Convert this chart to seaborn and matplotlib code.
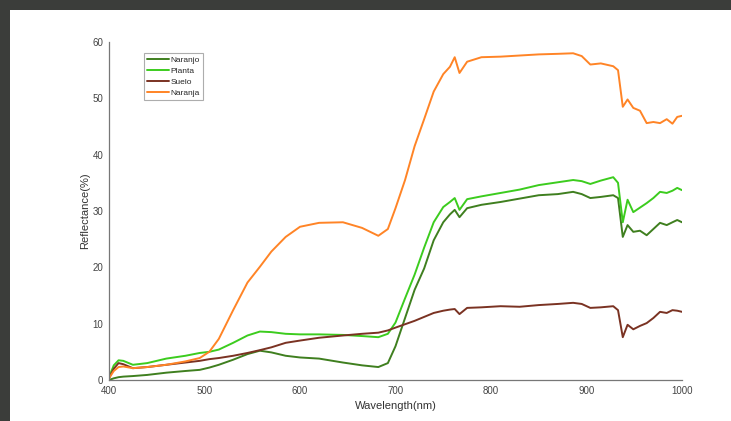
import matplotlib
matplotlib.use("Agg")
import matplotlib.pyplot as plt
from matplotlib.patches import Rectangle
from matplotlib.lines import Line2D
import seaborn as sns
import pandas as pd

wavelength = [400, 405, 410, 415, 425, 440, 460, 480, 495, 505, 515, 530, 545, 558,
              570, 585, 600, 620, 645, 665, 682, 692, 700, 710, 720, 730, 740, 750,
              757, 762, 767, 775, 790, 810, 830, 850, 870, 886, 895, 904, 915, 928,
              933, 938, 943, 949, 956, 963, 970, 977, 984, 990, 995, 1000]

naranjo = [0.0, 0.3, 0.5, 0.6, 0.7, 0.9, 1.3, 1.6, 1.8, 2.2, 2.7, 3.6, 4.6, 5.2,
           4.9, 4.3, 4.0, 3.8, 3.1, 2.6, 2.3, 3.0, 6.0, 11.0, 16.0, 19.8, 24.8, 28.0,
           29.4, 30.2, 28.9, 30.5, 31.1, 31.6, 32.2, 32.8, 33.0, 33.4, 33.0, 32.3, 32.5, 32.8,
           32.3, 25.4, 27.5, 26.3, 26.5, 25.7, 26.8, 27.9, 27.5, 28.0, 28.4, 28.0]

planta = [0.5, 2.6, 3.5, 3.4, 2.7, 3.0, 3.8, 4.3, 4.8, 5.0, 5.4, 6.6, 7.9, 8.6,
          8.5, 8.2, 8.1, 8.1, 8.0, 7.8, 7.6, 8.2, 10.2, 14.5, 18.7, 23.5, 28.0, 30.7,
          31.6, 32.3, 30.2, 32.1, 32.6, 33.2, 33.8, 34.6, 35.1, 35.5, 35.3, 34.8, 35.4, 36.0,
          35.0, 28.0, 32.0, 29.8, 30.6, 31.4, 32.3, 33.4, 33.2, 33.6, 34.1, 33.7]

suelo = [0.3, 2.0, 3.0, 2.8, 2.1, 2.3, 2.7, 3.1, 3.4, 3.7, 3.9, 4.3, 4.8, 5.3,
         5.8, 6.6, 7.0, 7.5, 7.9, 8.2, 8.4, 8.8, 9.3, 9.9, 10.5, 11.2, 11.9, 12.3,
         12.5, 12.6, 11.7, 12.8, 12.9, 13.1, 13.0, 13.3, 13.5, 13.7, 13.5, 12.8, 12.9, 13.1,
         12.4, 7.6, 9.8, 9.0, 9.6, 10.1, 11.0, 12.1, 11.9, 12.4, 12.3, 12.1]

naranja = [0.3, 1.6, 2.3, 2.4, 2.1, 2.3, 2.7, 3.3, 3.9, 5.0, 7.3, 12.4, 17.3, 20.1,
           22.8, 25.4, 27.2, 27.9, 28.0, 27.0, 25.6, 26.8, 30.5, 35.5, 41.5, 46.3, 51.2, 54.3,
           55.6, 57.3, 54.5, 56.5, 57.3, 57.4, 57.6, 57.8, 57.9, 58.0, 57.5, 56.0, 56.2, 55.7,
           55.0, 48.5, 49.8, 48.3, 47.8, 45.6, 45.8, 45.6, 46.3, 45.5, 46.7, 46.9]

series_names = ["Naranjo", "Planta", "Suelo", "Naranja"]
series_values = [naranjo, planta, suelo, naranja]
colors = {"Naranjo": "#3f7f1f", "Planta": "#3ccc1e", "Suelo": "#7a3222", "Naranja": "#ff8426"}

x_ticks = [400, 500, 600, 700, 800, 900, 1000]
y_ticks = [0, 10, 20, 30, 40, 50, 60]

rows = []
for name, vals in zip(series_names, series_values):
    for w, v in zip(wavelength, vals):
        rows.append({"Wavelength": w, "Reflectance": v, "Serie": name})
df = pd.DataFrame(rows)

sns.set_style("white")
plt.rcParams["font.family"] = ["Liberation Sans", "DejaVu Sans"]

fig = plt.figure(figsize=(7.31, 4.21), dpi=100)
fig.patch.set_facecolor("#3b3d3a")
bg = Rectangle((10 / 731, 0), 1 - 10 / 731, 1 - 10 / 421,
               transform=fig.transFigure, facecolor="white",
               edgecolor="none", zorder=-10)
fig.patches.append(bg)
ax = fig.add_axes([109 / 731, 1 - 380 / 421, 573 / 731, 338 / 421])
ax.set_zorder(5)
ax.set_facecolor("white")

sns.lineplot(data=df, x="Wavelength", y="Reflectance", hue="Serie",
             hue_order=series_names, palette=colors, linewidth=1.4, ax=ax,
             legend=False)

ax.set_xlim(400, 1000)
ax.set_ylim(0, 60)
ax.set_xticks(x_ticks)
ax.set_yticks(y_ticks)
ax.set_xticklabels([str(t) for t in x_ticks])
ax.set_yticklabels([str(t) for t in y_ticks])
ax.set_xlabel("Wavelength(nm)", fontsize=8, color="#333333", labelpad=4)
ax.set_ylabel("Reflectance(%)", fontsize=8, color="#333333", labelpad=2)

for s in ["top", "right"]:
    ax.spines[s].set_visible(False)
for s in ["left", "bottom"]:
    ax.spines[s].set_color("#777777")
    ax.spines[s].set_linewidth(0.9)
ax.tick_params(axis="both", direction="in", length=4, width=0.8, color="#777777",
               labelsize=7, labelcolor="#444444")
ax.tick_params(axis="x", pad=4)
ax.tick_params(axis="y", pad=4)

handles = [Line2D([0], [0], color=colors[n], lw=1.4) for n in series_names]
leg = ax.legend(handles, series_names, loc="upper left",
                bbox_to_anchor=(0.061, 0.967), fontsize=6, frameon=True,
                fancybox=False, handlelength=2.6, handletextpad=0.2,
                borderpad=0.4, labelspacing=0.35, borderaxespad=0)
leg.get_frame().set_edgecolor("#999999")
leg.get_frame().set_linewidth(0.8)

fig.savefig("out.png", dpi=100, facecolor=fig.get_facecolor())
